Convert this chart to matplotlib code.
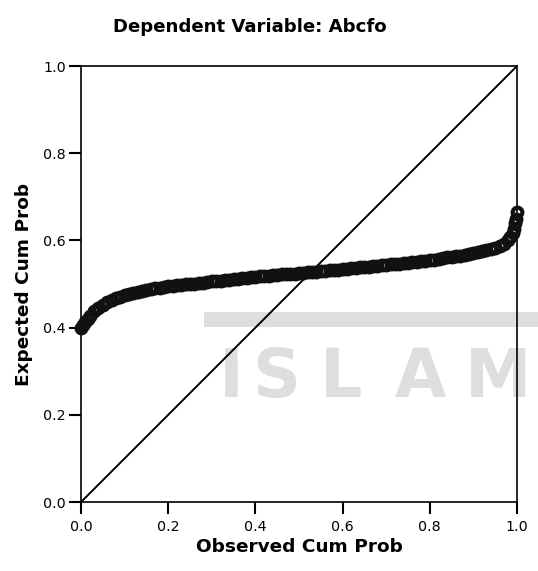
import numpy as np
import matplotlib.pyplot as plt
from matplotlib.patches import Rectangle

plt.rcParams['font.family'] = ['DejaVu Sans']

# observed vs expected cumulative probability
observed = [0.000, 0.005, 0.010, 0.015, 0.020, 0.030, 0.040, 0.050, 0.060, 0.070, 0.080, 0.090,
            0.100, 0.110, 0.120, 0.130, 0.140, 0.150, 0.160, 0.170, 0.180, 0.190,
            0.200, 0.210, 0.220, 0.230, 0.240, 0.250, 0.260, 0.270, 0.280, 0.290,
            0.300, 0.310, 0.320, 0.330, 0.340, 0.350, 0.360, 0.370, 0.380, 0.390,
            0.400, 0.410, 0.420, 0.430, 0.440, 0.450, 0.460, 0.470, 0.480, 0.490,
            0.500, 0.510, 0.520, 0.530, 0.540, 0.550, 0.560, 0.570, 0.580, 0.590,
            0.600, 0.610, 0.620, 0.630, 0.640, 0.650, 0.660, 0.670, 0.680, 0.690,
            0.700, 0.710, 0.720, 0.730, 0.740, 0.750, 0.760, 0.770, 0.780, 0.790,
            0.800, 0.810, 0.820, 0.830, 0.840, 0.850, 0.860, 0.870, 0.880, 0.890,
            0.900, 0.910, 0.920, 0.930, 0.940, 0.950, 0.960, 0.970,
            0.980, 0.985, 0.990, 0.993, 0.996, 0.998, 1.000]
expected = [0.400, 0.405, 0.412, 0.420, 0.427, 0.437, 0.445, 0.452, 0.458, 0.463, 0.467, 0.471,
            0.474, 0.477, 0.479, 0.482, 0.484, 0.486, 0.488, 0.490, 0.491, 0.493,
            0.495, 0.496, 0.497, 0.498, 0.499, 0.500, 0.501, 0.502, 0.503, 0.505,
            0.506, 0.507, 0.508, 0.509, 0.510, 0.511, 0.512, 0.513, 0.514, 0.515,
            0.517, 0.518, 0.518, 0.519, 0.520, 0.521, 0.522, 0.523, 0.523, 0.524,
            0.525, 0.526, 0.527, 0.527, 0.528, 0.529, 0.530, 0.531, 0.532, 0.533,
            0.534, 0.535, 0.536, 0.537, 0.538, 0.539, 0.540, 0.541, 0.542, 0.543,
            0.544, 0.545, 0.546, 0.547, 0.548, 0.549, 0.550, 0.551, 0.552, 0.553,
            0.554, 0.556, 0.558, 0.559, 0.561, 0.562, 0.564, 0.565, 0.567, 0.569,
            0.571, 0.573, 0.575, 0.577, 0.580, 0.583, 0.587, 0.592,
            0.600, 0.607, 0.618, 0.627, 0.640, 0.650, 0.665]

ticks = [0.0, 0.2, 0.4, 0.6, 0.8, 1.0]
tick_labels = ['0.0', '0.2', '0.4', '0.6', '0.8', '1.0']

fig = plt.figure(figsize=(5.38, 5.71), dpi=100)
ax = fig.add_axes([0.1506, 0.1208, 0.8104, 0.7636])

# faint watermark left over from the scan
wm = '#dedede'
ax.add_patch(Rectangle((0.380, 0.4273), 0.620, 0.0263, transform=fig.transFigure,
                       color=wm, lw=0, zorder=0, clip_on=False))
for letter, xf in zip('ISLAM', [0.429, 0.513, 0.634, 0.781, 0.925]):
    ax.text(xf, 0.3047, letter, transform=fig.transFigure, fontsize=48,
            fontweight='semibold', color=wm, ha='center', va='baseline',
            zorder=0, clip_on=False)

ax.plot([0, 1], [0, 1], color='black', lw=1.4, zorder=2)
ax.plot(observed, expected, 'o', mfc='none', mec='#111111', ms=7, mew=3,
        clip_on=False, zorder=3)

ax.set_xlim(0, 1)
ax.set_ylim(0, 1)
ax.set_xticks(ticks)
ax.set_xticklabels(tick_labels)
ax.set_yticks(ticks)
ax.set_yticklabels(tick_labels)
ax.tick_params(direction='out', length=8.5, width=1.5, labelsize=10.3)
ax.tick_params(axis='x', pad=4.5)
ax.tick_params(axis='y', pad=2.5)
for s in ax.spines.values():
    s.set_linewidth(1.2)

ax.set_xlabel('Observed Cum Prob', fontsize=13.3, fontweight='bold', labelpad=3)
ax.set_ylabel('Expected Cum Prob', fontsize=13.3, fontweight='bold', labelpad=7)
fig.text(0.464, 0.952, 'Dependent Variable: Abcfo', fontsize=13.1,
         fontweight='bold', ha='center', va='center')

fig.savefig('out.png', dpi=100)
